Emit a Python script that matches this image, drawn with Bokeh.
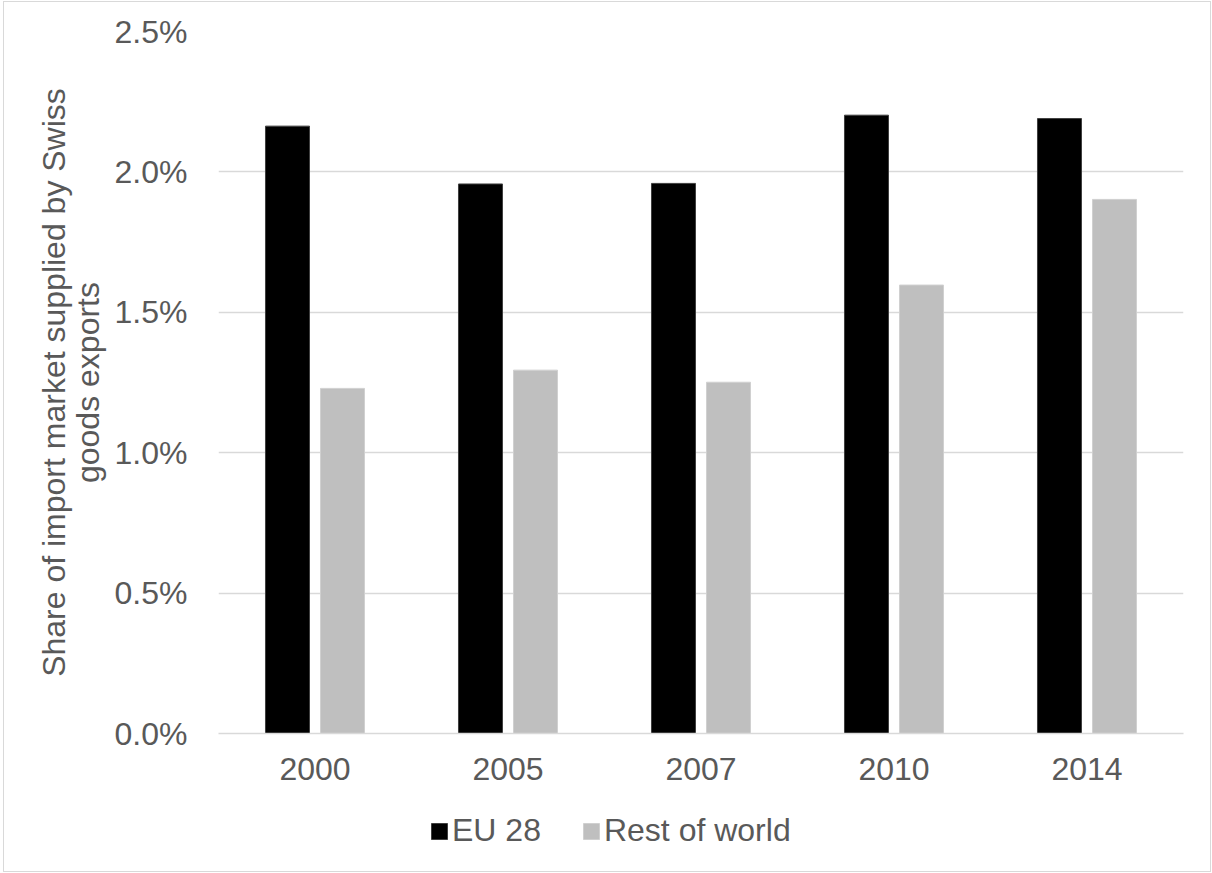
from bokeh.plotting import figure
from bokeh.layouts import column
from bokeh.models import (ColumnDataSource, FactorRange, Range1d, NumeralTickFormatter,
                          FixedTicker, Legend, LegendItem)
from bokeh.transform import dodge
from bokeh.embed import file_html
from bokeh.resources import INLINE

# Share of each import market supplied by Swiss goods exports
years = ["2000", "2005", "2007", "2010", "2014"]
eu28 = [0.02163, 0.01957, 0.01959, 0.02202, 0.02190]
rest_of_world = [0.01229, 0.01294, 0.01251, 0.01597, 0.01902]
y_ticks = [0.0, 0.005, 0.010, 0.015, 0.020, 0.025]

FONT = "Liberation Sans"
SIZE = "32px"
TEXT = "#595959"
GRID = "#d9d9d9"
EU_FILL, EU_LINE = "#000000", "#3f3f3f"
ROW_FILL, ROW_LINE = "#bfbfbf", "#d0d0d0"

src = ColumnDataSource(dict(year=years, eu=eu28, row=rest_of_world))
x_range = FactorRange(*years)


def add_bars(fig):
    eu = fig.vbar(x=dodge("year", -0.1425, range=x_range), top="eu", width=0.228,
                  source=src, fill_color=EU_FILL, line_color=EU_LINE, line_width=1)
    row = fig.vbar(x=dodge("year", 0.1425, range=x_range), top="row", width=0.228,
                   source=src, fill_color=ROW_FILL, line_color=ROW_LINE, line_width=1)
    return eu, row


p = figure(
    x_range=x_range, y_range=Range1d(0, 0.025),
    width=1206, height=798, output_backend="svg", toolbar_location=None,
    min_border_left=214, min_border_right=27, min_border_top=29, min_border_bottom=67,
)
p.outline_line_color = None
p.background_fill_color = "white"
p.border_fill_color = "white"
add_bars(p)

# y axis
p.yaxis.ticker = FixedTicker(ticks=y_ticks)
p.yaxis.formatter = NumeralTickFormatter(format="0.0%")
p.yaxis.axis_line_color = None
p.yaxis.major_tick_line_color = None
p.yaxis.minor_tick_line_color = None
p.yaxis.major_label_text_font = FONT
p.yaxis.major_label_text_font_size = SIZE
p.yaxis.major_label_text_color = TEXT
p.yaxis.major_label_standoff = 25
p.yaxis.axis_label = "Share of import market supplied by Swiss\ngoods exports"
p.yaxis.axis_label_text_font = FONT
p.yaxis.axis_label_text_font_size = SIZE
p.yaxis.axis_label_text_font_style = "normal"
p.yaxis.axis_label_text_color = TEXT
p.yaxis.axis_label_text_line_height = 0.93
p.yaxis.axis_label_standoff = 6

# x axis
p.xaxis.axis_line_color = GRID
p.xaxis.axis_line_width = 1.3
p.xaxis.major_tick_line_color = None
p.xaxis.minor_tick_line_color = None
p.xaxis.major_label_text_font = FONT
p.xaxis.major_label_text_font_size = SIZE
p.xaxis.major_label_text_color = TEXT
p.xaxis.major_label_standoff = 18

# grid
p.xgrid.visible = False
p.ygrid.ticker = FixedTicker(ticks=y_ticks)
p.ygrid.grid_line_color = GRID
p.ygrid.grid_line_width = 1.3

# legend strip underneath the chart (its view window lies above the bars)
lg = figure(x_range=x_range, y_range=Range1d(1, 2),
            width=1206, height=71, output_backend="svg", toolbar_location=None,
            x_axis_location=None, y_axis_location=None,
            min_border_left=0, min_border_right=0, min_border_top=0, min_border_bottom=0)
lg.outline_line_color = None
lg.xgrid.visible = False
lg.ygrid.visible = False
eu_key, row_key = add_bars(lg)

legend = Legend(
    items=[LegendItem(label="EU 28", renderers=[eu_key]),
           LegendItem(label="Rest of world", renderers=[row_key])],
    orientation="horizontal", location=(211, 22),
    glyph_width=20, glyph_height=20, label_standoff=3, spacing=40,
    padding=0, margin=0, border_line_color=None, background_fill_alpha=0,
    label_text_font=FONT, label_text_font_size=SIZE, label_text_color=TEXT,
)
lg.add_layout(legend)

page = column(p, lg, spacing=0)
page.margin = (1, 0, 0, 3)
page.styles = {"border": "1px solid #d9d9d9"}

open("out.html", "w").write(file_html(page, INLINE))
